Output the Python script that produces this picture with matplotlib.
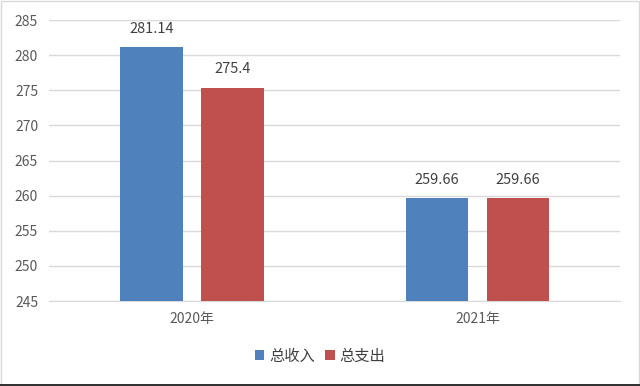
import matplotlib
matplotlib.use("Agg")
import matplotlib.pyplot as plt
import numpy as np
from matplotlib.patches import Rectangle

plt.rcParams['font.family'] = ['Noto Sans CJK SC', 'DejaVu Sans']

years = ['2020年', '2021年']
income = [281.14, 259.66]
expense = [275.4, 259.66]
income_labels = ['281.14', '259.66']
expense_labels = ['275.4', '259.66']
series_names = ['总收入', '总支出']
colors = ['#4F81BD', '#C0504D']

fig = plt.figure(figsize=(6.4, 3.86), dpi=100)
ax = fig.add_axes([0.077, 0.220, 0.892, 0.728])

x = np.arange(len(years))
w = 0.22
off = 0.142
b1 = ax.bar(x - off, [v - 245 for v in income], w, bottom=245, color=colors[0], label=series_names[0], zorder=3)
b2 = ax.bar(x + off, [v - 245 for v in expense], w, bottom=245, color=colors[1], label=series_names[1], zorder=3)

for bars, vals, labs in [(b1, income, income_labels), (b2, expense, expense_labels)]:
    for b, v, t in zip(bars, vals, labs):
        ax.annotate(t, (b.get_x() + b.get_width() / 2, v), xytext=(0, 8),
                    textcoords='offset points', ha='center', va='bottom',
                    fontsize=10.5, color='#404040')

ax.set_xlim(-0.5, 1.5)
ax.set_ylim(245, 285)
ax.set_yticks(np.arange(245, 286, 5))
ax.set_xticks(x)
ax.set_xticklabels(years)
ax.yaxis.grid(True, color='#D9D9D9', linewidth=1, zorder=0)
for s in ['top', 'right', 'left']:
    ax.spines[s].set_visible(False)
ax.spines['bottom'].set_color('#D9D9D9')
ax.tick_params(axis='both', length=0, labelsize=10, colors='#595959')
ax.tick_params(axis='y', pad=8)
ax.tick_params(axis='x', pad=8)

fig.legend(loc='center', bbox_to_anchor=(0.5, 0.078), ncol=2, frameon=False,
           fontsize=11, handlelength=0.6, handleheight=0.6, handletextpad=0.3,
           columnspacing=0.7, labelcolor='#404040')

fig.patches.append(Rectangle((0.001, 0.003), 0.997, 0.995, transform=fig.transFigure,
                             fill=False, edgecolor='#D9D9D9', linewidth=1))
fig.patches.append(Rectangle((0, 0), 1, 0.006, transform=fig.transFigure,
                             color='#333333', linewidth=0))

fig.savefig('out.png', dpi=100)
